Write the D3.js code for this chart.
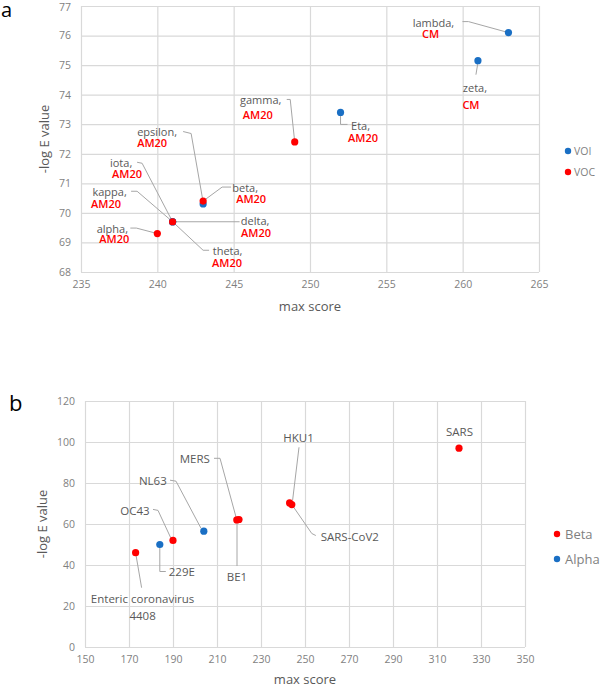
<!DOCTYPE html>
<html><head><meta charset="utf-8">
<script src="https://cdn.jsdelivr.net/npm/d3@7"></script>
<style>body{margin:0;background:#fff}svg{display:block;font-family:"Open Sans",sans-serif}</style>
</head><body><svg id="c" width="600" height="688"></svg>
<script>
// ---------- Panel a data ----------
const aNames  = ["epsilon","iota","kappa","theta","Eta","zeta","lambda","alpha","beta","gamma","delta"];
const aGroup  = ["VOI","VOI","VOI","VOI","VOI","VOI","VOI","VOC","VOC","VOC","VOC"];
const aScore  = [243,241,241,241,252,261,263,240,243,249,241];
const aLogE   = [70.3,69.7,69.7,69.7,73.4,75.15,76.1,69.3,70.4,72.4,69.7];
const aTag    = ["AM20","AM20","AM20","AM20","AM20","CM","CM","AM20","AM20","AM20","AM20"];
const aXTicks = [235,240,245,250,255,260,265];
const aYTicks = [68,69,70,71,72,73,74,75,76,77];
const aSeries = ["VOI","VOC"];

// ---------- Panel b data ----------
const bNames  = ["Enteric coronavirus\n4408","OC43","MERS","BE1","HKU1","SARS-CoV2","SARS","229E","NL63"];
const bGroup  = ["Beta","Beta","Beta","Beta","Beta","Beta","Beta","Alpha","Alpha"];
const bScore  = [173,190,219,220,243,244,320,184,204];
const bLogE   = [46,52,62,62.2,70.3,69.5,97,50,56.5];
const bXTicks = [150,170,190,210,230,250,270,290,310,330,350];
const bYTicks = [0,20,40,60,80,100,120];
const bSeries = ["Beta","Alpha"];

const colors = {VOI:"#1a6fc4",VOC:"#ff0000",Beta:"#ff0000",Alpha:"#1a6fc4"};

// ---------- label layout (pixel offsets from the point) ----------
const layoutA = {
  lambda:{l1:[-75,-6],l2:[-78,5.5],lead:[[-46,-11],[-40,-11],[0,0]]},
  zeta:{l1:[-3,31],l2:[-7,48],lead:[[0,2],[-2,14]]},
  Eta:{l1:[20,18],l2:[22.5,30],lead:[[0,0],[0,12],[7,12]]},
  gamma:{l1:[-34,-38],l2:[-37,-23],lead:[[-8,-42.5],[-4.5,-42.5],[0,0]]},
  epsilon:{l1:[-46,-68],l2:[-51,-57],lead:[[-20,-72.5],[-12,-70.5],[0,-2]]},
  beta:{l1:[42,-9],l2:[48,2],lead:[[28,-14],[19,-14],[0,0]]},
  iota:{l1:[-51.5,-55],l2:[-45.5,-44],lead:[[-35.5,-59.5],[-30.5,-58.5],[0,0]]},
  kappa:{l1:[-63,-26],l2:[-66.5,-14],lead:[[-41.5,-30.5],[-35.5,-30.5],[0,0]]},
  delta:{l1:[82.5,3],l2:[83.5,15],lead:[[67,0],[2,0]]},
  theta:{l1:[55,33],l2:[54.5,45],lead:[[36.5,28.5],[30.5,28.5],[0,0]]},
  alpha:{l1:[-45,-1],l2:[-43,9.5],lead:[[-27,-5.5],[-21,-5.5],[0,0]]}
};
const layoutB = {
  "Enteric coronavirus\n4408":{l:[7,50.5],lead:[[0,0],[6,35]]},
  "229E":{l:[22,31.5],lead:[[0,0],[0,27],[6,27]]},
  "OC43":{l:[-38,-25.5],lead:[[-20,-31],[-15,-30],[-2,-2]]},
  "NL63":{l:[-51,-46],lead:[[-33.8,-51],[-27.8,-50],[-2.8,-2.9]]},
  "MERS":{l:[-42,-56.5],lead:[[-22.8,-61.6],[-16.8,-61.6],[0,0]]},
  "BE1":{l:[-2,61.5],lead:[[-2,0],[-2,46.5]]},
  "HKU1":{l:[9,-60.5],lead:[[9.4,-55.6],[3,-2.6]]},
  "SARS-CoV2":{l:[58,36],lead:[[0,0],[20,29],[24,31]]},
  "SARS":{l:[0.5,-12],lead:null}
};

const svg = d3.select("#c");
const gridCol="#d9d9d9", tickCol="#7f7f7f", titleCol="#595959", leadCol="#a6a6a6", textCol="#595959";

function frame(g, x, y, xt, yt, w, h){
  const gx = g.append("g").attr("transform",`translate(0,${h})`)
    .call(d3.axisBottom(x).tickValues(xt).tickSize(-h).tickPadding(9).tickFormat(d3.format("d")));
  const gy = g.append("g")
    .call(d3.axisLeft(y).tickValues(yt).tickSize(-w).tickPadding(10).tickFormat(d3.format("d")));
  [gx,gy].forEach(a=>{
    a.select(".domain").remove();
    a.selectAll("line").attr("stroke",gridCol).attr("stroke-width",1.2);
    a.selectAll("text").attr("fill",tickCol).attr("font-size","10.5px").attr("font-family","Open Sans");
  });
  return gy;
}

// ---------- Panel a ----------
{
  const L=81,T=6,W=458,H=266;
  const g = svg.append("g").attr("transform",`translate(${L},${T})`);
  const x = d3.scaleLinear().domain([235,265]).range([0,W]);
  const y = d3.scaleLinear().domain([68,77]).range([H,0]);
  const gy = frame(g,x,y,aXTicks,aYTicks,W,H);
  gy.selectAll(".tick text").filter(d=>d===77).attr("dy","0.45em");
  aNames.forEach((n,i)=>{
    const lay=layoutA[n], px=x(aScore[i]), py=y(aLogE[i]);
    g.append("path").attr("d",d3.line()(lay.lead.map(p=>[px+p[0],py+p[1]])))
      .attr("fill","none").attr("stroke",leadCol).attr("stroke-width",1);
  });
  aNames.forEach((n,i)=>{
    g.append("circle").attr("cx",x(aScore[i])).attr("cy",y(aLogE[i])).attr("r",3.6)
      .attr("fill",colors[aGroup[i]]);
  });
  aNames.forEach((n,i)=>{
    const lay=layoutA[n], px=x(aScore[i]), py=y(aLogE[i]);
    const t=g.append("text").attr("text-anchor","middle").attr("font-size","11px");
    t.append("tspan").attr("x",px+lay.l1[0]).attr("y",py+lay.l1[1]).attr("fill",textCol).text(n+",");
    t.append("tspan").attr("x",px+lay.l2[0]).attr("y",py+lay.l2[1]).attr("font-weight","600")
      .attr("fill","#ff0000").text(aTag[i]);
  });
  svg.append("text").attr("x",L+W/2).attr("y",311).attr("text-anchor","middle")
    .attr("font-size","13px").attr("fill",titleCol).text("max score");
  svg.append("text").attr("transform",`translate(49,${T+H/2}) rotate(-90)`).attr("text-anchor","middle")
    .attr("font-size","13px").attr("fill",titleCol).text("-log E value");
  aSeries.forEach((s,i)=>{
    svg.append("circle").attr("cx",568).attr("cy",151+i*21).attr("r",3.2).attr("fill",colors[s]);
    svg.append("text").attr("x",574).attr("y",155+i*21).attr("font-size","10.5px").attr("fill",tickCol).text(s);
  });
  svg.append("text").attr("x",1).attr("y",17).attr("font-size","20px").attr("fill","#000").text("a");
}

// ---------- Panel b ----------
{
  const L=85,T=401,W=440,H=246;
  const g = svg.append("g").attr("transform",`translate(${L},${T})`);
  const x = d3.scaleLinear().domain([150,350]).range([0,W]);
  const y = d3.scaleLinear().domain([0,120]).range([H,0]);
  frame(g,x,y,bXTicks,bYTicks,W,H);
  bNames.forEach((n,i)=>{
    const lay=layoutB[n], px=x(bScore[i]), py=y(bLogE[i]);
    if(lay.lead) g.append("path").attr("d",d3.line()(lay.lead.map(p=>[px+p[0],py+p[1]])))
      .attr("fill","none").attr("stroke",leadCol).attr("stroke-width",1);
  });
  bNames.forEach((n,i)=>{
    g.append("circle").attr("cx",x(bScore[i])).attr("cy",y(bLogE[i])).attr("r",3.6)
      .attr("fill",colors[bGroup[i]]);
  });
  bNames.forEach((n,i)=>{
    const lay=layoutB[n], px=x(bScore[i]), py=y(bLogE[i]);
    const t=g.append("text").attr("text-anchor","middle").attr("font-size","11.5px").attr("fill",textCol);
    n.split("\n").forEach((s,k)=>{
      t.append("tspan").attr("x",px+lay.l[0]).attr("y",py+lay.l[1]+k*16.5).text(s);
    });
  });
  svg.append("text").attr("x",L+W/2).attr("y",684).attr("text-anchor","middle")
    .attr("font-size","13px").attr("fill",titleCol).text("max score");
  svg.append("text").attr("transform",`translate(47,${T+H/2}) rotate(-90)`).attr("text-anchor","middle")
    .attr("font-size","13px").attr("fill",titleCol).text("-log E value");
  bSeries.forEach((s,i)=>{
    svg.append("circle").attr("cx",557).attr("cy",534+i*25).attr("r",3.2).attr("fill",colors[s]);
    svg.append("text").attr("x",565).attr("y",538.5+i*25).attr("font-size","13px").attr("fill",tickCol).text(s);
  });
  svg.append("text").attr("x",9).attr("y",411).attr("font-size","22px").attr("fill","#000").text("b");
}
</script></body></html>
